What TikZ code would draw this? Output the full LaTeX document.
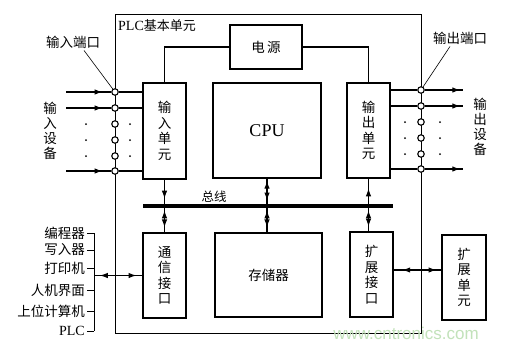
\documentclass[tikz,border=0pt]{standalone}
\usepackage{fontspec}
\setmainfont{Liberation Serif}
\newfontfamily\cjk{Noto Sans CJK SC}
\newfontfamily\wmfont{Liberation Sans}
\usetikzlibrary{arrows.meta,decorations.markings,calc}
\definecolor{filigrane}{HTML}{C2E2BA}

\begin{document}
\begin{tikzpicture}[x=1pt,y=-1pt,
  bloc/.style={draw,line width=1.3pt,inner sep=0pt,align=center,font=\cjk\fontsize{13.5}{15.5}\selectfont},
  cadre/.style={draw,line width=0.8pt,inner sep=0pt,minimum width=306pt,minimum height=319pt},
  port/.style={circle,draw,fill=white,line width=1.1pt,inner sep=0pt,minimum size=6.5pt},
  fil/.style={line width=1.2pt},
  trait/.style={line width=0.6pt},
  lab/.style={inner sep=0pt,align=center,font=\cjk\fontsize{13.5}{15}\selectfont},
  pt/.style={circle,fill,inner sep=0pt,minimum size=2pt},
  fl/.style={postaction={decorate,decoration={markings,mark=at position #1 with {\arrow{Latex[length=8pt,width=5.5pt]}}}}},
  flr/.style={postaction={decorate,decoration={markings,mark=at position #1 with {\arrowreversed{Latex[length=8pt,width=5.5pt]}}}}}]
  \path[fill=white,use as bounding box] (0,0) rectangle (509,349);
  % ---- 1. PLC basic unit
  \node[cadre] (plc) at (268,173.5) {};
  \node[anchor=west,inner sep=0pt,font=\fontsize{14}{14}\selectfont] (titre) at (118,26) {PLC{\cjk\fontsize{13}{13}\selectfont 基本单元}};
  \node[bloc,minimum width=72pt,minimum height=44pt] (dy) at (266,47) {电\,源};
  \node[bloc,minimum width=43pt,minimum height=96pt] (inunit) at (164.5,131) {输\\入\\单\\元};
  \node[bloc,minimum width=108pt,minimum height=95pt,font=\fontsize{18}{18}\selectfont] (cpu) at (267,130.5) {CPU};
  \node[bloc,minimum width=43pt,minimum height=95pt] (outunit) at (368.5,130.5) {输\\出\\单\\元};
  \node[bloc,minimum width=43pt,minimum height=85pt] (comm) at (164.5,275.5) {通\\信\\接\\口};
  \node[bloc,minimum width=107pt,minimum height=84pt] (mem) at (268.5,275) {存储器};
  \node[bloc,minimum width=43pt,minimum height=85pt] (expif) at (371.5,274.5) {扩\\展\\接\\口};
  \node[bloc,minimum width=44pt,minimum height=85pt] (expunit) at (464,277.5) {扩\\展\\单\\元};
  \draw[fil] (dy.west) -- (dy.west -| inunit.north) -- (inunit.north);
  \draw[fil] (dy.east) -- (dy.east -| outunit.north) -- (outunit.north);
  % ---- 2. bus
  \node[fill,inner sep=0pt,minimum width=250pt,minimum height=3.4pt] (bus) at (268,206) {};
  \node[lab,font=\cjk\fontsize{12.5}{12.5}\selectfont] (buslab) at (214,197) {总线};
  \draw[fil,fl=0.78] (inunit.south) -- (inunit.south |- bus.north);
  \draw[fil,flr=0.1,fl=0.8] (bus.south -| inunit.south) -- (comm.north -| inunit.south);
  \draw[fil,flr=0.08,fl=0.86] (cpu.south) -- (cpu.south |- bus.north);
  \draw[fil,flr=0.1,fl=0.8] (bus.south -| cpu.south) -- (mem.north -| cpu.south);
  \draw[fil,flr=0.38] (outunit.south) -- (outunit.south |- bus.north);
  \draw[fil,flr=0.1,fl=0.8] (bus.south -| outunit.south) -- (expif.north -| outunit.south);
  % ---- 3. input ports
  \foreach \i/\yy in {1/92,2/108,3/124,4/140,5/156,6/171}
    \node[port] (ip\i) at (115,\yy) {};
  \foreach \i in {1,2,6} {
    \coordinate (is\i) at ($(ip\i)+(-49,0)$);
    \draw[fil,fl=0.81] (is\i) -- (ip\i);
    \draw[fil] (ip\i) -- (ip\i -| inunit.west);
  }
  \foreach \i in {3,4,5} {
    \node[pt] at ($(ip\i)+(-29,0)$) {};
    \node[pt] at ($(ip\i)+(15,0)$) {};
  }
  \node[lab] (lin) at (73,42) {输入端口};
  \draw[trait] ([xshift=11pt,yshift=-2pt]lin.south) -- (ip1);
  \node[lab] (indev) at (50,131) {输\\入\\设\\备};
  % ---- 4. output ports
  \foreach \i/\yy in {1/90,2/106,3/122,4/138,5/154,6/169}
    \node[port] (op\i) at (421,\yy) {};
  \foreach \i in {1,2,6} {
    \coordinate (os\i) at ($(op\i)+(42,0)$);
    \draw[fil] (op\i -| outunit.east) -- (op\i);
    \draw[fil,fl=0.93] (op\i) -- (os\i);
  }
  \foreach \i in {3,4,5} {
    \node[pt] at ($(op\i)+(-16,0)$) {};
    \node[pt] at ($(op\i)+(19,0)$) {};
  }
  \node[lab] (lout) at (460,38) {输出端口};
  \draw[trait] ([xshift=-10pt,yshift=-2pt]lout.south) -- (op1);
  \node[lab] (outdev) at (480,127) {输\\出\\设\\备};
  % ---- 5. communication
  \foreach \i/\t/\yy in {1/编程器/233,2/写入器/250,3/打印机/268,4/人机界面/290,5/上位计算机/311}
    \node[lab,anchor=east,inner sep=2pt] (d\i) at (87,\yy) {\t};
  \node[anchor=east,inner sep=2pt,font=\fontsize{14}{14}\selectfont] (d6) at (87,331) {PLC};
  \foreach \i in {1,...,6}
    \coordinate (b\i) at ($(d\i.east)+(7,0)$);
  \foreach \i in {1,...,6}
    \draw[trait] (d\i.east) -- (b\i);
  \draw[trait] (b1) -- (b6);
  \coordinate (bc) at (b1 |- comm.west);
  \draw[fil,flr=0.12,fl=0.88] (bc) -- (comm.west);
  % ---- 6. expansion
  \coordinate (ex) at ([yshift=4.5pt]expif.east);
  \draw[fil,flr=0.18,fl=0.9] (ex) -- (ex -| expunit.west);
  \node[text=filigrane,inner sep=0pt,font=\wmfont\fontsize{17}{17}\selectfont] (wm) at (406,333) {www.cntronics.com};
\end{tikzpicture}
\end{document}
